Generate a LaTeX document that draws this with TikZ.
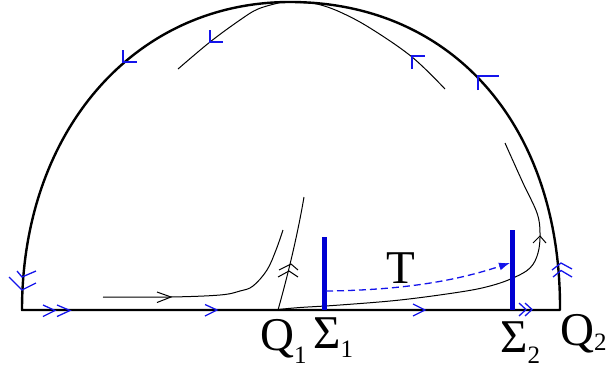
\documentclass[tikz,border=0pt]{standalone}
\usepackage{fontspec}
\setmainfont{Liberation Serif}
\usetikzlibrary{arrows.meta}
\definecolor{mk}{RGB}{20,20,235}
\definecolor{sg}{RGB}{0,0,210}
\tikzset{
  outer/.style={line width=2.4pt, line join=round},
  orbit/.style={line width=1pt, black},
  marker/.style={line width=1.3pt, mk},
  bmarker/.style={line width=1pt, black},
  sigmabar/.style={line width=5pt, sg},
  lbl/.style={inner sep=0pt, anchor=base west, font=\fontsize{47}{47}\selectfont},
}
\newcommand{\subtxt}[2]{\raisebox{#1}{\fontsize{25}{25}\selectfont #2}}
\begin{document}
\begin{tikzpicture}[x=1pt,y=-1pt]
\useasboundingbox (0,0) rectangle (609,373);
% outer boundary
\coordinate (BL) at (22,310);
\coordinate (TOP) at (290,2);
\coordinate (BR) at (560,310);
\draw[outer] (BL) .. controls (22,131) and (134.6,2) .. (TOP)
  .. controls (452,2) and (561,125) .. (BR) -- cycle;
\coordinate (Q1) at (278,310);
\coordinate (Q2) at (560,310);
% orbits
\draw[orbit] plot[smooth, tension=0.6] coordinates {(178,69) (210,42) (240,20) (258,9) (280,2.6)};
\draw[orbit] plot[smooth, tension=0.6] coordinates {(300,2.6) (317,4) (340,12) (370,28) (412,57) (445,89)};
\draw[orbit] plot[smooth, tension=0.6] coordinates {(103,297) (170,297) (220,295) (240,291) (253,286) (267,270) (276,250) (283,230)};
\draw[orbit] (Q1) .. controls (287,278) and (297,238) .. (304,197) coordinate (Dend);
\draw[orbit] plot[smooth, tension=0.6] coordinates {(278,309.5) (300,307.5) (340,305) (400,300) (460,292) (490,286) (513,278) (530,268) (538,253) (540,233) (537,213) (523,183) (505,143)};
% black arrows on orbits
\draw[bmarker] (157,292) -- (171,297) -- (157,302.5);
\draw[bmarker] (279,270) -- (291,264) -- (298,270);
\draw[bmarker] (278,277) -- (289,271) -- (298,277);
\draw[bmarker] (533,243) -- (540,236) -- (546,243);
% blue markers
\draw[marker] (123,50) -- (123,62) -- (137,62);
\draw[marker] (210,30) -- (210,42) -- (223,42);
\draw[marker] (412,69) -- (412,56) -- (425,56);
\draw[marker] (478,90) -- (478,76) -- (499,76);
\draw[marker] (17,271) -- (22,277) -- (36,271);
\draw[marker] (9,277) -- (22,290) -- (36,283);
\draw[marker] (43,305) -- (55,310.5) -- (43,316.5);
\draw[marker] (57,305) -- (70,310.5) -- (57,316.5);
\draw[marker] (205,304.5) -- (217,310) -- (205,316);
\draw[marker] (413,304) -- (425,310) -- (413,316);
\draw[marker] (519,303) -- (526,309.5) -- (519,316);
\draw[marker] (525,303) -- (532,309.5) -- (525,316);
\draw[marker] (552,270) -- (561,263) -- (572,269);
\draw[marker] (553,277) -- (561,270.5) -- (572,277);
% sections
\draw[sigmabar] (324,237) coordinate (S1top) -- (324,310) coordinate (S1bot);
\draw[sigmabar] (512,230) coordinate (S2top) -- (512,310) coordinate (S2bot);
% return map
\coordinate (Tstart) at (326,291);
\coordinate (Tend) at (510,263);
\draw[mk, line width=1.3pt, dash pattern=on 7pt off 4pt, -{Latex[length=11pt,width=8pt]}] (Tstart) .. controls (420,290) and (470,276) .. (Tend);
% labels
\node[lbl] (T) at (386,283) {T};
\node[lbl] (Q1lbl) at (260,350) {Q\subtxt{-13pt}{1}};
\node[lbl] (S1lbl) at (313,348) {Σ\subtxt{-9pt}{1}};
\node[lbl] (S2lbl) at (500,352) {Σ\subtxt{-11pt}{2}};
\node[lbl] (Q2lbl) at (560,345) {Q\subtxt{-5pt}{2}};
\end{tikzpicture}
\end{document}
